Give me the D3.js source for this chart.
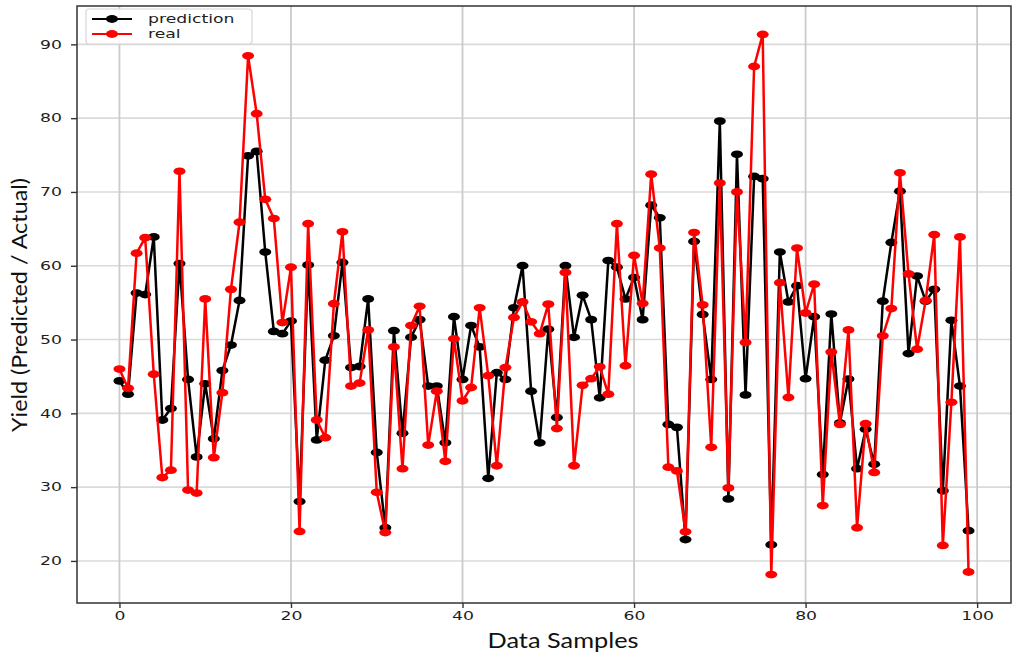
<!DOCTYPE html>
<html>
<head>
<meta charset="utf-8">
<script src="https://cdn.jsdelivr.net/npm/d3@7"></script>
<style>
  body { margin: 0; background: #fff; }
  svg { display: block; }
</style>
</head>
<body>
<svg id="chart" width="1012" height="656"></svg>
<script>
// values, sample 0..99
var prediction = [44.4, 42.6, 56.3, 56.1, 63.9, 39.1, 40.65, 60.3, 44.6, 34.1,
  44.0, 36.55, 45.8, 49.25, 55.3, 74.9, 75.5, 61.85, 51.1, 50.8,
  52.5, 28.05, 60.1, 36.4, 47.2, 50.5, 60.45, 46.2, 46.35, 55.5,
  34.7, 24.5, 51.2, 37.3, 50.3, 52.7, 43.7, 43.7, 36.0, 53.1,
  44.6, 51.9, 49.0, 31.2, 45.5, 44.6, 54.3, 60.0, 43.0, 36.0,
  51.4, 39.45, 60.0, 50.3, 56.0, 52.7, 42.1, 60.7, 59.8, 55.5,
  58.4, 52.7, 68.2, 66.5, 38.5, 38.1, 22.9, 63.3, 53.4, 44.6,
  79.6, 28.4, 75.1, 42.5, 72.1, 71.8, 22.2, 61.85, 55.1, 57.3,
  44.7, 53.1, 31.7, 53.45, 38.7, 44.65, 32.5, 37.85, 33.1, 55.2,
  63.15, 70.1, 48.1, 58.6, 55.2, 56.8, 29.5, 52.6, 43.7, 24.1];

var real = [46.0, 43.4, 61.7, 63.8, 45.3, 31.3, 32.3, 72.8, 29.6, 29.2,
  55.5, 34.0, 42.8, 56.8, 65.9, 88.45, 80.6, 69.0, 66.4, 52.3,
  59.8, 24.0, 65.7, 39.1, 36.7, 54.85, 64.6, 43.7, 44.1, 51.3,
  29.3, 23.85, 49.0, 32.5, 51.9, 54.5, 35.7, 43.0, 33.5, 50.1,
  41.7, 43.5, 54.3, 45.1, 32.9, 46.2, 53.0, 55.1, 52.4, 50.8,
  54.8, 37.95, 59.1, 32.9, 43.8, 44.7, 46.3, 42.6, 65.7, 46.45,
  61.4, 54.9, 72.4, 62.4, 32.7, 32.2, 23.95, 64.5, 54.7, 35.4,
  71.2, 29.9, 70.0, 49.6, 87.0, 91.35, 18.15, 57.7, 42.15, 62.4,
  53.6, 57.5, 27.5, 48.3, 38.5, 51.3, 24.5, 38.6, 32.0, 50.5,
  54.2, 72.6, 58.9, 48.7, 55.3, 64.2, 22.1, 41.5, 63.9, 18.5];

var xTicks = [0, 20, 40, 60, 80, 100];
var yTicks = [20, 30, 40, 50, 60, 70, 80, 90];
var seriesNames = ["prediction", "real"];
var seriesColors = ["#000000", "#ff0000"];

var stretch = 1.5; // the picture is widened, text too
var plotL = 77, plotR = 1011, plotT = 6, plotB = 603;

var svg = d3.select("#chart");

var x = d3.scaleLinear().domain([-4.95, 103.95]).range([plotL, plotR]);
var y = d3.scaleLinear().domain([14.3, 95.2]).range([plotB, plotT]);

// grid
svg.append("g").selectAll("line").data(yTicks).join("line")
    .attr("x1", plotL).attr("x2", plotR)
    .attr("y1", d => y(d)).attr("y2", d => y(d))
    .attr("stroke", "#dadada").attr("stroke-width", 1.6);
svg.append("g").selectAll("line").data(xTicks).join("line")
    .attr("x1", d => x(d)).attr("x2", d => x(d))
    .attr("y1", plotT).attr("y2", plotB)
    .attr("stroke", "#cbcbcb").attr("stroke-width", 1.8);

// lines + markers
var all = [prediction, real];
var line = d3.line().x((d, i) => x(i)).y(d => y(d));
all.forEach(function(s, k) {
    svg.append("path").datum(s)
        .attr("d", line)
        .attr("fill", "none")
        .attr("stroke", seriesColors[k])
        .attr("stroke-width", 2.5)
        .attr("stroke-linejoin", "round");
    svg.append("g").selectAll("ellipse").data(s).join("ellipse")
        .attr("cx", (d, i) => x(i)).attr("cy", d => y(d))
        .attr("rx", 6).attr("ry", 3.9)
        .attr("fill", seriesColors[k]);
});

// axes
var xAxis = svg.append("g").attr("transform", "translate(0," + plotB + ")")
    .call(d3.axisBottom(x).tickValues(xTicks).tickSize(5).tickPadding(3));
var yAxis = svg.append("g").attr("transform", "translate(" + plotL + ",0)")
    .call(d3.axisLeft(y).tickValues(yTicks).tickSize(6).tickPadding(8));

[xAxis, yAxis].forEach(function(ax) {
    ax.select(".domain").remove();
    ax.selectAll(".tick line").attr("stroke", "#333").attr("stroke-width", 1.4);
    ax.selectAll(".tick text")
        .attr("font-family", "DejaVu Sans")
        .attr("font-size", 11.5)
        .attr("fill", "#1e1e1e");
});
xAxis.selectAll(".tick text")
    .attr("y", 9).attr("dy", "0.71em")
    .attr("transform", "scale(" + stretch + ",1)");
yAxis.selectAll(".tick text")
    .attr("x", -15 / stretch)
    .attr("transform", "scale(" + stretch + ",1)");

// spines
svg.append("rect")
    .attr("x", plotL).attr("y", plotT)
    .attr("width", plotR - plotL).attr("height", plotB - plotT)
    .attr("fill", "none").attr("stroke", "#333").attr("stroke-width", 1.5);

// axis titles
svg.append("text")
    .attr("x", 563).attr("y", 648)
    .attr("text-anchor", "middle")
    .attr("font-family", "Liberation Sans Narrow, Lato, sans-serif")
    .attr("font-size", 22)
    .attr("fill", "#111")
    .attr("textLength", 151).attr("lengthAdjust", "spacingAndGlyphs")
    .text("Data Samples");
svg.append("text")
    .attr("transform", "translate(27,305) rotate(-90)")
    .attr("text-anchor", "middle")
    .attr("font-family", "Liberation Sans Narrow, Lato, sans-serif")
    .attr("font-size", 21)
    .attr("fill", "#111")
    .attr("textLength", 254).attr("lengthAdjust", "spacingAndGlyphs")
    .text("Yield (Predicted / Actual)");

// legend
var lg = svg.append("g");
lg.append("rect")
    .attr("x", 86).attr("y", 9).attr("width", 166).attr("height", 35)
    .attr("rx", 3).attr("fill", "#fff").attr("fill-opacity", 0.85)
    .attr("stroke", "#d6d6d6").attr("stroke-width", 1.2);
var items = lg.selectAll("g.item").data(seriesNames).join("g")
    .attr("class", "item")
    .attr("transform", (d, i) => "translate(0," + (19 + i * 15) + ")");
items.append("line")
    .attr("x1", 92).attr("x2", 132)
    .attr("stroke", (d, i) => seriesColors[i]).attr("stroke-width", 1.8);
items.append("ellipse")
    .attr("cx", 112).attr("rx", 6).attr("ry", 3.9)
    .attr("fill", (d, i) => seriesColors[i]);
items.append("text")
    .attr("x", 148 / stretch).attr("dy", "0.35em")
    .attr("transform", "scale(" + stretch + ",1)")
    .attr("font-family", "DejaVu Sans")
    .attr("font-size", 11.5)
    .attr("fill", "#1e1e1e")
    .text(d => d);
</script>
</body>
</html>
